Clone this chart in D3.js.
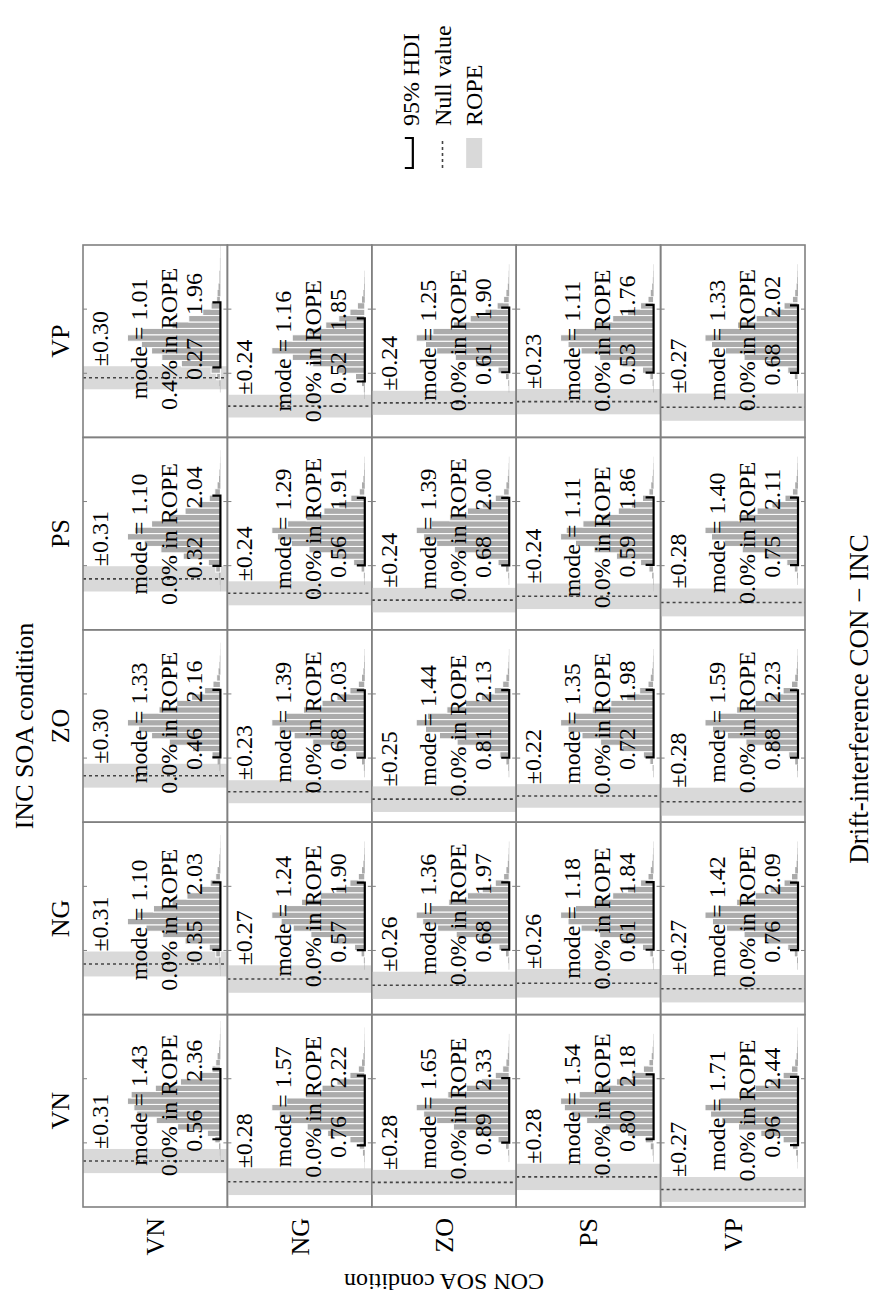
<!DOCTYPE html>
<html>
<head>
<meta charset="utf-8">
<script src="https://cdn.jsdelivr.net/npm/d3@7"></script>
<style>
  body { margin: 0; background: #fff; }
  text { font-family: "Liberation Serif", "Times New Roman", serif; fill: #000; }
</style>
</head>
<body>
<svg id="chart" width="876" height="1304"></svg>
<script>
// SOA conditions (rows = CON, columns = INC)
const conditions = ["VN", "NG", "ZO", "PS", "VP"];

// ROPE half-width per panel [row][col]
const ropeHalf = [
  [0.31, 0.31, 0.30, 0.31, 0.30],
  [0.28, 0.27, 0.23, 0.24, 0.24],
  [0.28, 0.26, 0.25, 0.24, 0.24],
  [0.28, 0.26, 0.22, 0.24, 0.23],
  [0.27, 0.27, 0.28, 0.28, 0.27]
];
const modes = [
  [1.43, 1.10, 1.33, 1.10, 1.01],
  [1.57, 1.24, 1.39, 1.29, 1.16],
  [1.65, 1.36, 1.44, 1.39, 1.25],
  [1.54, 1.18, 1.35, 1.11, 1.11],
  [1.71, 1.42, 1.59, 1.40, 1.33]
];
const pctInRope = [
  [0.0, 0.0, 0.0, 0.0, 0.4],
  [0.0, 0.0, 0.0, 0.0, 0.0],
  [0.0, 0.0, 0.0, 0.0, 0.0],
  [0.0, 0.0, 0.0, 0.0, 0.0],
  [0.0, 0.0, 0.0, 0.0, 0.0]
];
const hdiLow = [
  [0.56, 0.35, 0.46, 0.32, 0.27],
  [0.76, 0.57, 0.68, 0.56, 0.52],
  [0.89, 0.68, 0.81, 0.68, 0.61],
  [0.80, 0.61, 0.72, 0.59, 0.53],
  [0.96, 0.76, 0.88, 0.75, 0.68]
];
const hdiHigh = [
  [2.36, 2.03, 2.16, 2.04, 1.96],
  [2.22, 1.90, 2.03, 1.91, 1.85],
  [2.33, 1.97, 2.13, 2.00, 1.90],
  [2.18, 1.84, 1.98, 1.86, 1.76],
  [2.44, 2.09, 2.23, 2.11, 2.02]
];
// free x range of each panel (range of the posterior sample)
const xMin = [
  [-1.18, -1.26, -1.17, -1.25, -1.55],
  [-0.53, -0.70, -0.61, -0.73, -0.66],
  [-0.55, -0.56, -0.45, -0.58, -0.69],
  [-0.64, -0.57, -0.49, -0.63, -0.65],
  [-0.38, -0.51, -0.41, -0.55, -0.60]
];
const xMax = [
  [3.76, 3.53, 3.67, 3.47, 3.45],
  [3.50, 3.09, 3.24, 3.12, 3.40],
  [3.75, 3.12, 3.31, 3.18, 3.15],
  [3.45, 2.93, 3.10, 2.99, 2.85],
  [3.79, 3.28, 3.44, 3.32, 3.22]
];
// histogram bar heights (30 bins over the panel range, % of tallest bar)
const histHeights = [
  [
    [0,0,0,0,0,0,0,0.3,0.6,1.5,6,14,46,69,90,93,100,96,70,43,23,9,5,3,1.5,1,0.5,0.3,0.2,0],
    [0,0,0,0,0,0,0.3,0.6,1.5,5,12,38,62,80,100,90,72,52,36,22,11,5,3,1.5,1,0.5,0.3,0.2,0,0],
    [0,0,0,0,0,0,0,0.4,1,3,9,30,55,74,88,100,86,66,47,31,17,8,4,2,1,0.6,0.3,0.2,0,0],
    [0,0,0,0,0,0,0.3,0.6,1.5,5,13,40,64,82,100,92,74,55,38,24,12,6,3,1.5,1,0.5,0.3,0.2,0,0],
    [0,0,0,0,0,0,0,0.5,1,4,10,42,63,74,85,100,85,52,34,19,10,4,3,2,1,1,0.5,0.5,0.3,0.3]
  ],
  [
    [0,0,0,0,0,0,0.3,0.6,2,6,16,40,62,80,92,100,84,64,46,30,16,7,3,1.5,0.8,0.5,0.3,0.2,0,0],
    [0,0,0,0,0,0,0,0.5,1,4,11,34,58,77,90,100,87,68,48,31,16,7,3,1.5,0.8,0.5,0.3,0,0,0],
    [0,0,0,0,0,0,0,0.5,1,3,10,32,56,76,92,100,85,66,46,30,16,7,3,1.5,0.8,0.5,0.3,0,0,0],
    [0,0,0,0,0,0,0,0.5,1,4,12,36,60,79,94,100,83,63,44,28,15,6,3,1.5,0.8,0.5,0.3,0,0,0],
    [0,0,0,0,0,0,0.5,1,3,10,30,56,78,100,92,78,60,42,28,16,8,3,1.5,0.8,0.5,0.3,0,0,0,0]
  ],
  [
    [0,0,0,0,0,0,0,0.5,1,4,12,36,60,78,92,100,86,66,46,30,15,7,3,1.5,0.8,0.5,0.3,0,0,0],
    [0,0,0,0,0,0,0,0.5,1,4,11,33,57,77,93,100,85,65,45,29,15,6,3,1.5,0.8,0.5,0.3,0,0,0],
    [0,0,0,0,0,0,0,0.5,1,3,10,32,56,75,90,100,88,67,47,30,16,7,3,1.5,0.8,0.5,0.3,0,0,0],
    [0,0,0,0,0,0,0,0.5,1,4,12,35,59,78,92,100,84,64,45,29,15,6,3,1.5,0.8,0.5,0.3,0,0,0],
    [0,0,0,0,0,0,0,0.5,1,4,12,36,58,78,90,100,82,60,42,26,13,6,3,1.5,0.8,0.5,0.3,0,0,0]
  ],
  [
    [0,0,0,0,0,0,0,0.5,1,3,9,28,52,72,88,96,100,80,60,40,24,11,5,2,1,0.5,0.3,0,0,0],
    [0,0,0,0,0,0,0,0.5,1,4,12,35,58,78,92,100,84,64,44,28,14,6,3,1.5,0.8,0.5,0.3,0,0,0],
    [0,0,0,0,0,0,0,0.5,1,4,11,34,57,77,92,100,86,66,46,29,15,6,3,1.5,0.8,0.5,0.3,0,0,0],
    [0,0,0,0,0,0,0.3,0.6,1.5,5,14,40,64,84,100,94,76,56,38,24,12,5,2.5,1.2,0.7,0.4,0.2,0,0,0],
    [0,0,0,0,0,0,0,0.5,1,4,12,34,58,78,92,100,86,64,44,28,14,6,3,1.5,0.8,0.5,0.3,0,0,0]
  ],
  [
    [0,0,0,0,0,0,0.3,0.6,2,6,16,40,64,82,94,100,84,64,46,30,16,7,3,1.5,0.8,0.5,0.3,0.2,0,0],
    [0,0,0,0,0,0,0,0.5,1,4,11,34,58,77,92,100,86,66,46,30,15,7,3,1.5,0.8,0.5,0.3,0,0,0],
    [0,0,0,0,0,0,0,0.5,1,3,10,32,56,76,92,100,86,66,46,30,16,7,3,1.5,0.8,0.5,0.3,0,0,0],
    [0,0,0,0,0,0,0,0.5,1,4,12,36,60,79,93,100,84,64,44,28,14,6,3,1.5,0.8,0.5,0.3,0,0,0],
    [0,0,0,0,0,0,0,0.5,1,4,11,34,58,78,93,100,85,65,45,29,15,6,3,1.5,0.8,0.5,0.3,0,0,0]
  ]
];
const legendLabels = ["95% HDI", "Null value", "ROPE"];

// the figure is laid out landscape and turned a quarter turn on the page
const pageW = 876, pageH = 1304;
const svg = d3.select("#chart");
const root = svg.append("g").attr("transform", `translate(0,${pageH}) rotate(-90)`);

const colScale = d3.scaleBand().domain(conditions).range([97, 1059]);
const rowScale = d3.scaleBand().domain(conditions).range([83, 805]);
const cw = colScale.bandwidth(), rh = rowScale.bandwidth();
const nBins = 30;

const fmt2 = d3.format(".2f"), fmt1 = d3.format(".1f");

conditions.forEach((rowName, r) => {
  conditions.forEach((colName, c) => {
    const px = colScale(colName), py = rowScale(rowName);
    const x = d3.scaleLinear().domain([xMin[r][c], xMax[r][c]]).range([px, px + cw]);
    const y = d3.scaleLinear().domain([0, 100]).range([py + rh - 7, py + rh - 100]);
    const frac = d3.scaleLinear().domain([0, 1]).range([px, px + cw]);

    const clipId = `clip-${r}-${c}`;
    root.append("clipPath").attr("id", clipId)
      .append("rect").attr("x", px).attr("y", py).attr("width", cw).attr("height", rh);
    const panel = root.append("g").attr("clip-path", `url(#${clipId})`);

    // ROPE band
    panel.append("rect")
      .attr("x", x(-ropeHalf[r][c])).attr("y", py)
      .attr("width", x(ropeHalf[r][c]) - x(-ropeHalf[r][c])).attr("height", rh)
      .attr("fill", "#d9d9d9");

    // histogram
    const binW = (xMax[r][c] - xMin[r][c]) / nBins;
    panel.selectAll("rect.bar")
      .data(histHeights[r][c])
      .join("rect")
      .attr("class", "bar")
      .attr("x", (d, i) => x(xMin[r][c] + i * binW))
      .attr("width", x(xMin[r][c] + binW) - x(xMin[r][c]))
      .attr("y", d => y(d))
      .attr("height", d => y(0) - y(d))
      .attr("fill", "#ababab")
      .attr("stroke", "#fff")
      .attr("stroke-width", d => d > 3 ? 1 : 0);

    // null value
    panel.append("line")
      .attr("x1", x(0)).attr("x2", x(0)).attr("y1", py).attr("y2", py + rh)
      .attr("stroke", "#444").attr("stroke-width", 1.6).attr("stroke-dasharray", "3,3");

    // HDI bracket
    const by = y(0);
    panel.append("path")
      .attr("d", `M${x(hdiLow[r][c])},${by - 8}V${by}H${x(hdiHigh[r][c])}V${by - 8}`)
      .attr("fill", "none").attr("stroke", "#000").attr("stroke-width", 2.2);

    // small ticks on the panel edges
    [1 / 3, 2 / 3].forEach(t => {
      root.append("line").attr("x1", frac(t)).attr("x2", frac(t))
        .attr("y1", py).attr("y2", py + 4).attr("stroke", "#808080").attr("stroke-width", 1);
      root.append("line").attr("x1", frac(t)).attr("x2", frac(t))
        .attr("y1", py + rh - 4).attr("y2", py + rh).attr("stroke", "#808080").attr("stroke-width", 1);
    });

    // labels
    const fs = 24;
    root.append("text").attr("x", x(ropeHalf[r][c])).attr("y", py + 25)
      .attr("font-size", fs).text("\u00b1" + fmt2(ropeHalf[r][c]));
    root.append("text").attr("x", x(modes[r][c])).attr("y", py + 64)
      .attr("text-anchor", "middle").attr("font-size", fs)
      .text("mode = " + fmt2(modes[r][c]));
    root.append("text").attr("x", x(modes[r][c])).attr("y", py + 94)
      .attr("text-anchor", "middle").attr("font-size", fs)
      .text(fmt1(pctInRope[r][c]) + "% in ROPE");
    [hdiLow[r][c], hdiHigh[r][c]].forEach(v => {
      const t = root.append("text").attr("y", py + 119).attr("font-size", fs).text(fmt2(v));
      const w = t.node().getComputedTextLength();
      t.attr("x", x(v) - 0.3 * w);
    });

    // panel border
    root.append("rect").attr("x", px).attr("y", py).attr("width", cw).attr("height", rh)
      .attr("fill", "none").attr("stroke", "#808080").attr("stroke-width", 1.6);
  });
});

// strip labels
root.selectAll("text.col-label").data(conditions).join("text")
  .attr("class", "col-label")
  .attr("x", d => colScale(d) + cw / 2).attr("y", 69)
  .attr("text-anchor", "middle").attr("font-size", 26).text(d => d);
root.selectAll("text.row-label").data(conditions).join("text")
  .attr("class", "row-label")
  .attr("x", 86).attr("y", d => rowScale(d) + rh / 2 + 9)
  .attr("text-anchor", "end").attr("font-size", 26).text(d => d);

// titles
root.append("text").attr("x", (97 + 1059) / 2).attr("y", 33)
  .attr("text-anchor", "middle").attr("font-size", 26).text("INC SOA condition");
root.append("text").attr("transform", `translate(30,${(83 + 805) / 2}) rotate(-90)`)
  .attr("text-anchor", "middle").attr("font-size", 24).text("CON SOA condition");
root.append("text").attr("x", 605).attr("y", 868)
  .attr("text-anchor", "middle").attr("font-size", 27).text("Drift-interference CON \u2212 INC");

// legend
const legend = root.append("g").attr("transform", "translate(1128,0)");
const ly = d3.scaleBand().domain(legendLabels).range([395, 490]);
legend.selectAll("text").data(legendLabels).join("text")
  .attr("x", 50).attr("y", d => ly(d) + ly.bandwidth() / 2 + 8)
  .attr("font-size", 24).text(d => d);
const k0 = ly(legendLabels[0]) + ly.bandwidth() / 2;
legend.append("path").attr("d", `M8,${k0 - 6}V${k0 + 2}H38V${k0 - 6}`)
  .attr("fill", "none").attr("stroke", "#000").attr("stroke-width", 2.2);
const k1 = ly(legendLabels[1]) + ly.bandwidth() / 2;
legend.append("line").attr("x1", 8).attr("x2", 38).attr("y1", k1).attr("y2", k1)
  .attr("stroke", "#444").attr("stroke-width", 1.6).attr("stroke-dasharray", "3,3");
const k2 = ly(legendLabels[2]) + ly.bandwidth() / 2;
legend.append("rect").attr("x", 8).attr("y", k2 - 8).attr("width", 30).attr("height", 16)
  .attr("fill", "#d9d9d9");
</script>
</body>
</html>
